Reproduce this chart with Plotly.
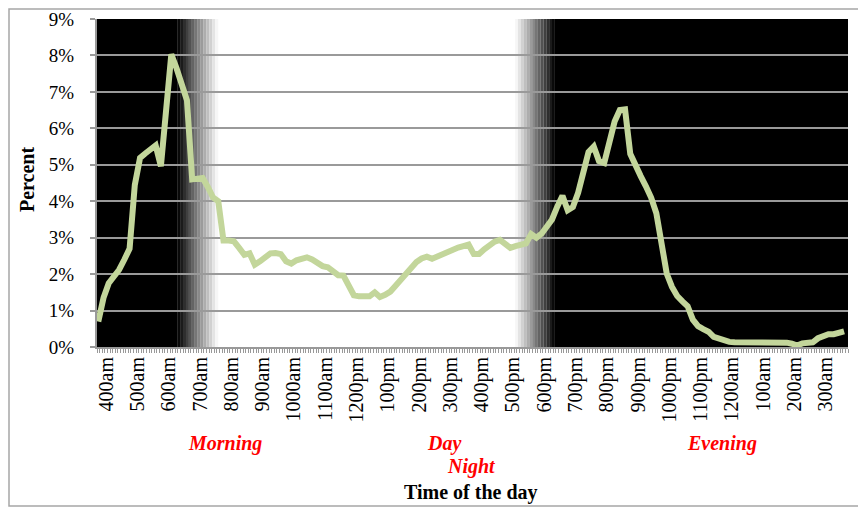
import plotly.graph_objects as go

# ---------------- data ----------------
start_hour = 3.75          # first observation: 3:45am
step_minutes = 10          # sampling interval of the series

percent = [
    0.70, 1.35, 1.75, 1.94, 2.12, 2.40, 2.70, 4.45, 5.19, 5.31,
    5.43, 5.53, 4.96, 6.40, 8.03, 7.65, 7.20, 6.77, 4.60, 4.60,
    4.64, 4.39, 4.10, 4.00, 2.92, 2.92, 2.90, 2.72, 2.53, 2.57,
    2.26, 2.35, 2.46, 2.57, 2.58, 2.55, 2.35, 2.29, 2.38, 2.44,
    2.46, 2.40, 2.30, 2.22, 2.19, 2.10, 1.97, 1.96, 1.64, 1.42,
    1.39, 1.40, 1.39, 1.50, 1.37, 1.43, 1.52, 1.68, 1.84, 2.03,
    2.22, 2.33, 2.43, 2.48, 2.42, 2.49, 2.53, 2.59, 2.68, 2.73,
    2.77, 2.81, 2.55, 2.55, 2.68, 2.81, 2.89, 2.94, 2.84, 2.72,
    2.77, 2.80, 2.84, 3.10, 3.00, 3.11, 3.30, 3.50, 3.85, 4.15,
    3.75, 3.84, 4.23, 4.80, 5.35, 5.50, 5.10, 5.05, 5.58, 6.19,
    6.50, 6.52, 5.30, 4.94, 4.69, 4.41, 4.10, 3.67, 2.74, 2.01,
    1.65, 1.40, 1.25, 1.12, 0.75, 0.57, 0.49, 0.42, 0.28, 0.22,
    0.16, 0.14, 0.13, 0.13, 0.14, 0.14, 0.13, 0.13, 0.13, 0.13,
    0.13, 0.12, 0.12, 0.09, 0.04, 0.10, 0.12, 0.13, 0.24, 0.31,
    0.35, 0.35, 0.39, 0.43,
]
hours = [start_hour + i * step_minutes / 60 for i in range(len(percent))]

tick_hours = list(range(4, 28))
tick_labels = [
    "400am", "500am", "600am", "700am", "800am", "900am", "1000am", "1100am",
    "1200pm", "100pm", "200pm", "300pm", "400pm", "500pm", "600pm", "700pm",
    "800pm", "900pm", "1000pm", "1100pm", "1200am", "100am", "200am", "300am",
]
y_ticks = list(range(0, 10))
y_tick_labels = [f"{v}%" for v in y_ticks]

period_labels = ["Morning", "Day", "Night", "Evening"]

# ---------------- figure ----------------
x0 = 3.75 - 2.5 / 60
x1 = x0 + 24

fig = go.Figure()
fig.add_trace(go.Scatter(
    x=hours, y=percent, mode="lines",
    line=dict(color="#c3d69b", width=6),
    hoverinfo="skip", showlegend=False,
))

shapes = []
# dark night backgrounds
shapes.append(dict(type="rect", xref="x", yref="paper", x0=x0, x1=6.27, y0=0, y1=1,
                   fillcolor="black", line=dict(width=0), layer="below"))
shapes.append(dict(type="rect", xref="x", yref="paper", x0=18.34, x1=x1, y0=0, y1=1,
                   fillcolor="black", line=dict(width=0), layer="below"))
# stepped gradients
n = 14
def bands(a, b, dark_to_light):
    w = (b - a) / n
    for i in range(n):
        t = (i + 0.5) / n
        g = int(round(255 * (t if dark_to_light else 1 - t)))
        shapes.append(dict(type="rect", xref="x", yref="paper",
                           x0=a + i * w, x1=a + (i + 1) * w + 0.002, y0=0, y1=1,
                           fillcolor=f"rgb({g},{g},{g})", line=dict(width=0), layer="below"))
bands(6.27, 7.58, True)
bands(17.07, 18.34, False)

# page offset (browser body margin)
OFF = 8
# plot area in page pixels
L, T, W, H = 97, 19, 751, 328
def px(x): return (x - L) / W
def py(y): return (T + H - y) / H

# outer border
shapes.append(dict(type="rect", xref="paper", yref="paper",
                   x0=px(9), x1=px(862), y0=py(506), y1=py(9),
                   line=dict(color="#a6a6a6", width=1.5), fillcolor="rgba(0,0,0,0)", layer="above"))

serif = "Liberation Serif, Times New Roman, serif"
red_font = dict(family=serif, size=20, color="red")
annotations = [
    dict(text=f"<b><i>{period_labels[0]}</i></b>", x=px(225), y=py(443)),
    dict(text=f"<b><i>{period_labels[1]}</i></b>", x=px(444), y=py(443)),
    dict(text=f"<b><i>{period_labels[2]}</i></b>", x=px(471), y=py(467)),
    dict(text=f"<b><i>{period_labels[3]}</i></b>", x=px(722), y=py(443)),
]
for a in annotations:
    a.update(xref="paper", yref="paper", showarrow=False, font=red_font,
             xanchor="center", yanchor="middle")
annotations.append(dict(text="<b>Time of the day</b>", x=px(471), y=py(492),
                        xref="paper", yref="paper", showarrow=False,
                        font=dict(family=serif, size=20, color="black"),
                        xanchor="center", yanchor="middle"))
annotations.append(dict(text="<b>Percent</b>", x=px(27), y=py(180), textangle=-90,
                        xref="paper", yref="paper", showarrow=False,
                        font=dict(family=serif, size=20, color="black"),
                        xanchor="center", yanchor="middle"))

FW, FH = 866 - OFF, 509 - OFF
fig.update_layout(
    width=FW, height=FH,
    margin=dict(l=L - OFF, r=FW - (L - OFF) - W, t=T - OFF, b=FH - (T - OFF) - H,
                autoexpand=False),
    paper_bgcolor="white", plot_bgcolor="white",
    shapes=shapes, annotations=annotations,
    font=dict(family=serif, size=20, color="black"),
)
fig.update_xaxes(
    range=[x0, x1], tickvals=tick_hours, ticktext=tick_labels, tickangle=-90,
    ticks="", showgrid=False, zeroline=False, automargin=False,
    ticklabeloverflow="allow",
    showline=True, linecolor="#999999", linewidth=2,
    tickfont=dict(family=serif, size=20, color="black"),
    minor=dict(ticks="outside", ticklen=4, tickcolor="#999999", tickwidth=1,
               tick0=x0, dtick=1 / 12, showgrid=False),
)
fig.update_yaxes(
    range=[0, 9], tickvals=y_ticks, ticktext=y_tick_labels, automargin=False,
    ticklabeloverflow="allow",
    ticks="outside", ticklen=5, tickcolor="#999999", tickwidth=1.5,
    showgrid=True, gridcolor="#9a9a9a", gridwidth=2, zeroline=False,
    showline=True, linecolor="#999999", linewidth=2,
    tickfont=dict(family=serif, size=19, color="black"),
    ticklabelstandoff=12,
)

fig.write_html("out.html")
